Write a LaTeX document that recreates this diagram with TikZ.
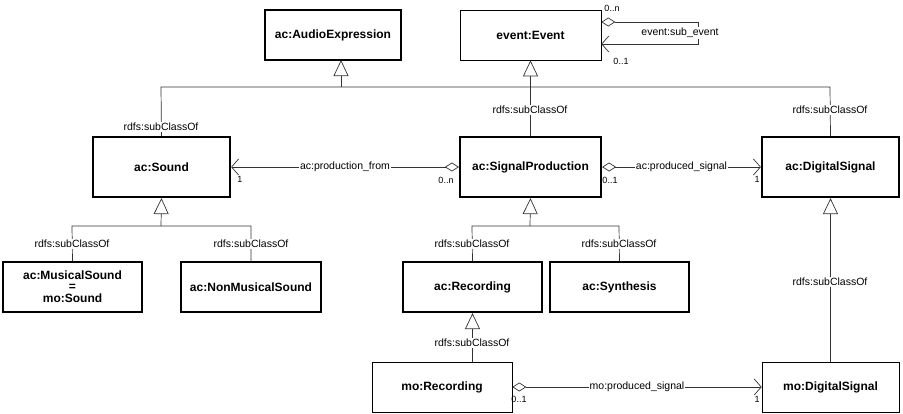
\documentclass[tikz,border=0pt]{standalone}
\usepackage{fontspec}
\setmainfont{Liberation Sans}
\usetikzlibrary{arrows.meta}
\begin{document}
\begin{tikzpicture}[x=1pt,y=-1pt,
  cls/.style={draw,line width=2.2pt,fill=white,font=\bfseries\fontsize{12}{13}\selectfont,align=center,inner sep=0pt},
  clsthin/.style={cls,line width=0.6pt},
  lbl/.style={fill=white,inner sep=1pt,font=\fontsize{10.5}{11}\selectfont},
  mult/.style={inner sep=0pt,font=\fontsize{9}{10}\selectfont},
  ln/.style={draw=black!80,line width=0.7pt},
  gen/.style={ln,-{Triangle[open,length=16pt,width=15pt]}},
  assoc/.style={ln,{Diamond[open,length=14pt,width=9pt]}-{Straight Barb[length=7pt,width=16pt]}}]
\useasboundingbox (0,0) rectangle (903,413);
\node[cls,minimum width=136,minimum height=50] (ae) at (333,35) {ac:AudioExpression};
\node[clsthin,minimum width=141,minimum height=50] (ev) at (530.5,35) {event:Event};
\node[cls,minimum width=137,minimum height=60] (snd) at (161.5,167) {ac:Sound};
\node[cls,minimum width=141,minimum height=60] (sp) at (530.5,167) {ac:SignalProduction};
\node[cls,minimum width=137,minimum height=60] (ds) at (830.5,167) {ac:DigitalSignal};
\node[cls,minimum width=139,minimum height=50] (ms) at (72.5,287) {ac:MusicalSound\\[-2pt]=\\[-1pt]mo:Sound};
\node[cls,minimum width=140,minimum height=50] (nms) at (251,287) {ac:NonMusicalSound};
\node[cls,minimum width=139,minimum height=50] (rec) at (472.5,287) {ac:Recording};
\node[cls,minimum width=139,minimum height=50] (syn) at (619.5,287) {ac:Synthesis};
\node[clsthin,minimum width=140,minimum height=50] (morec) at (442,387) {mo:Recording};
\node[clsthin,minimum width=137,minimum height=50] (mods) at (830.5,387) {mo:DigitalSignal};
% generalizations to AudioExpression
\coordinate (j1) at (341,87);
\draw[ln] (snd.north) -- (161,87) -- (j1) -- (830,87) -- (ds.north);
\draw[gen] (j1) -- (341,60);
\node[lbl] at (161,127) {rdfs:subClassOf};
\node[lbl] at (830,110) {rdfs:subClassOf};
\draw[gen] (sp.north) -- (ev.south);
\node[lbl] at (530,110) {rdfs:subClassOf};
% Sound subclasses
\coordinate (j2) at (161,226);
\draw[ln] (ms.north) -- (72,226) -- (251,226) -- (nms.north);
\draw[gen] (j2) -- (snd.south);
\node[lbl] at (72,244) {rdfs:subClassOf};
\node[lbl] at (251,244) {rdfs:subClassOf};
% SignalProduction subclasses
\coordinate (j3) at (530,226);
\draw[ln] (rec.north) -- (472,226) -- (619,226) -- (syn.north);
\draw[gen] (j3) -- (sp.south);
\node[lbl] at (472,244) {rdfs:subClassOf};
\node[lbl] at (619,244) {rdfs:subClassOf};
% mo:Recording
\draw[gen] (morec.north -| rec.south) -- (rec.south);
\node[lbl] at (472,343) {rdfs:subClassOf};
\draw[gen] (mods.north) -- (ds.south);
\node[lbl] at (830,282) {rdfs:subClassOf};
% associations
\draw[assoc] (sp.west) -- node[lbl] {ac:production\_from} (snd.east);
\node[mult] at (446,180) {0..n};
\node[mult] at (240,179) {1};
\draw[assoc] (sp.east) -- node[lbl] {ac:produced\_signal} (ds.west);
\node[mult] at (610,180) {0..1};
\node[mult] at (757,179) {1};
\draw[assoc] (morec.east) -- node[lbl] {mo:produced\_signal} (mods.west);
\node[mult] at (519,399) {0..1};
\node[mult] at (757,399) {1};
% self loop
\coordinate (l1) at (698,22);
\coordinate (l2) at (698,44);
\draw[assoc] (ev.east |- l1) -- (l1) -- (l2) -- (ev.east |- l2);
\node[lbl] at (680,33) {event:sub\_event};
\node[mult] at (612,8) {0..n};
\node[mult] at (621,61) {0..1};
\end{tikzpicture}
\end{document}
